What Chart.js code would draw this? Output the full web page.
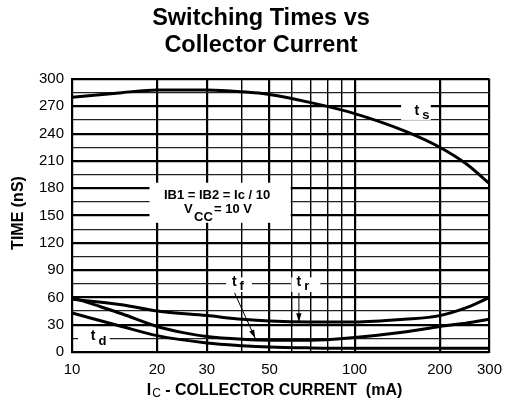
<!DOCTYPE html>
<html>
<head>
<meta charset="utf-8">
<script src="https://cdn.jsdelivr.net/npm/chart.js@4.4.7/dist/chart.umd.min.js"></script>
<style>
  html, body { margin: 0; padding: 0; background: #fff; }
  #wrap { width: 511px; height: 406px; }
</style>
</head>
<body>
<div id="wrap"><canvas id="c" width="511" height="406"></canvas></div>
<script>
// currents in mA (x) and times in nS (y)
const tsX = [10, 15, 20, 30, 40, 50, 70, 100, 150, 200, 250, 300];
const tsY = [280, 285, 288, 288, 286, 283, 274, 262, 243, 225, 206, 185];

const trX = [10, 15, 20, 30, 40, 50, 70, 100, 150, 200, 250, 300];
const trY = [58, 52, 45, 40, 36, 34, 33, 33, 36, 40, 49, 60];

const tfX = [10, 12, 15, 20, 25, 30, 40, 50, 70, 100, 150, 200, 250, 300];
const tfY = [60, 52, 42, 28, 21, 17, 14, 13, 13, 16, 22, 28, 32, 36];

const tdX = [10, 15, 20, 30, 40, 50, 70, 100, 200, 300];
const tdY = [43, 28, 18, 10, 7, 5.5, 4.5, 4, 4, 4];

const xGrid = [10, 20, 30, 40, 50, 60, 70, 80, 90, 100, 200, 300];
const xLabels = [10, 20, 30, 50, 100, 200, 300];
const yLabelStep = 30;

const FONT = '"Liberation Sans", Arial, sans-serif';

const pts = (xs, ys) => xs.map((x, i) => ({ x: x, y: ys[i] }));

const lineSet = (xs, ys) => ({
    data: pts(xs, ys),
    borderColor: '#000',
    borderWidth: 3,
    pointRadius: 0,
    fill: false,
    cubicInterpolationMode: 'monotone'
});

// labels, condition box, arrows and axis titles
const decor = {
    id: 'decor',
    beforeDatasetsDraw(chart) {
        const c = chart.ctx;
        const xs = chart.scales.x, ys = chart.scales.y;
        const px = v => xs.getPixelForValue(v);
        const py = v => ys.getPixelForValue(v);

        const blank = (x0, y0, x1, y1) => {
            c.fillStyle = '#fff';
            c.fillRect(x0, y0, x1 - x0, y1 - y0);
        };
        const sub = (main, s, x, y) => {
            c.fillStyle = '#000';
            c.textBaseline = 'middle';
            c.textAlign = 'left';
            c.font = 'bold 14px ' + FONT;
            c.fillText(main, x, y - 2);
            const w = c.measureText(main).width;
            c.font = 'bold 13px ' + FONT;
            c.fillText(s, x + w + 3, y + 3);
        };

        c.save();
        // t s
        blank(px(146), py(274), px(186), py(255));
        sub('t', 's', px(163), py(263));
        // t f, t r
        blank(px(35.1), py(82), px(43.3), py(66));
        sub('t', 'f', px(36.8), py(75));
        blank(px(59.7), py(82), px(75.6), py(66));
        sub('t', 'r', px(62.3), py(75));
        // t d
        blank(px(10.5), py(22), px(13.6), py(8));
        sub('t', 'd', px(11.66), py(15));

        // condition box
        blank(px(18.8), py(186), px(59.4), py(142));
        c.fillStyle = '#000';
        c.textAlign = 'center';
        c.textBaseline = 'middle';
        c.font = 'bold 13px ' + FONT;
        const cx = px(32.6);
        c.fillText('IB1 = IB2 = Ic / 10', cx, py(172));
        c.textAlign = 'left';
        c.fillText('V', cx - 33, py(157));
        c.fillText('CC', cx - 23, py(148));
        c.fillText('= 10 V', cx - 3, py(157));

        // arrows
        const arrow = (x0, y0, x1, y1) => {
            c.strokeStyle = '#000';
            c.lineWidth = 1;
            c.beginPath();
            c.moveTo(x0, y0);
            c.lineTo(x1, y1);
            c.stroke();
            const a = Math.atan2(y1 - y0, x1 - x0);
            c.beginPath();
            c.moveTo(x1, y1);
            c.lineTo(x1 - 9 * Math.cos(a - 0.3), y1 - 9 * Math.sin(a - 0.3));
            c.lineTo(x1 - 9 * Math.cos(a + 0.3), y1 - 9 * Math.sin(a + 0.3));
            c.closePath();
            c.fillStyle = '#000';
            c.fill();
        };
        arrow(px(37.6), py(65), px(44.5), py(15));
        arrow(px(63.5), py(65), px(63.5), py(33));
        c.restore();
    },
    afterDraw(chart) {
        const c = chart.ctx;
        c.save();
        c.fillStyle = '#000';
        c.textAlign = 'center';
        c.textBaseline = 'alphabetic';
        c.font = 'bold 23.5px ' + FONT;
        c.fillText('Switching Times vs', 261, 25);
        c.fillText('Collector Current', 261, 52);

        // y title
        c.textBaseline = 'middle';
        c.translate(19, 213);
        c.rotate(-Math.PI / 2);
        c.font = 'bold 16px ' + FONT;
        c.fillText('TIME (nS)', 0, 0);
        c.setTransform(1, 0, 0, 1, 0, 0);

        // x title with subscript
        const a = 'I', b = 'C', t = ' - COLLECTOR CURRENT  (mA)';
        c.font = 'bold 16px ' + FONT;
        const wa = c.measureText(a).width;
        const wt = c.measureText(t).width;
        c.font = '12px ' + FONT;
        const wb = c.measureText(b).width;
        let x = 274 - (wa + wb + wt) / 2;
        c.textAlign = 'left';
        c.font = 'bold 16px ' + FONT;
        c.fillText(a, x, 391);
        c.font = '12px ' + FONT;
        c.fillText(b, x + wa + 1, 394);
        c.font = 'bold 16px ' + FONT;
        c.fillText(t, x + wa + wb + 1, 391);
        c.restore();
    }
};

new Chart(document.getElementById('c'), {
    type: 'line',
    data: {
        datasets: [
            lineSet(tsX, tsY),
            lineSet(trX, trY),
            lineSet(tfX, tfY),
            lineSet(tdX, tdY)
        ]
    },
    options: {
        responsive: false,
        animation: false,
        events: [],
        layout: { padding: { left: 0, top: 79, right: 19, bottom: 0 } },
        plugins: { legend: { display: false }, tooltip: { enabled: false } },
        scales: {
            x: {
                type: 'logarithmic',
                min: 10,
                max: 300,
                afterBuildTicks(scale) {
                    scale.ticks = xGrid.map(v => ({ value: v }));
                },
                afterFit(scale) { scale.height = 54; },
                ticks: {
                    autoSkip: false,
                    maxRotation: 0,
                    padding: 9,
                    color: '#000',
                    font: { size: 15, family: FONT },
                    callback: v => (xLabels.includes(v) ? String(v) : '')
                },
                grid: {
                    drawTicks: false,
                    color: '#000',
                    lineWidth: ctx => (xLabels.includes(ctx.tick.value) ? 2.2 : 1.4)
                },
                border: { display: true, color: '#000', width: 2 }
            },
            y: {
                type: 'linear',
                min: 0,
                max: 300,
                afterFit(scale) { scale.width = 72; },
                ticks: {
                    stepSize: 15,
                    autoSkip: false,
                    padding: 8,
                    color: '#000',
                    font: { size: 15, family: FONT },
                    callback: v => (v % yLabelStep === 0 ? String(v) : '')
                },
                grid: {
                    drawTicks: false,
                    color: ctx => (ctx.tick.value % yLabelStep === 0 ? '#000' : '#222'),
                    lineWidth: ctx => (ctx.tick.value % yLabelStep === 0 ? 2.2 : 1.2)
                },
                border: { display: true, color: '#000', width: 2 }
            }
        }
    },
    plugins: [decor]
});
</script>
</body>
</html>
